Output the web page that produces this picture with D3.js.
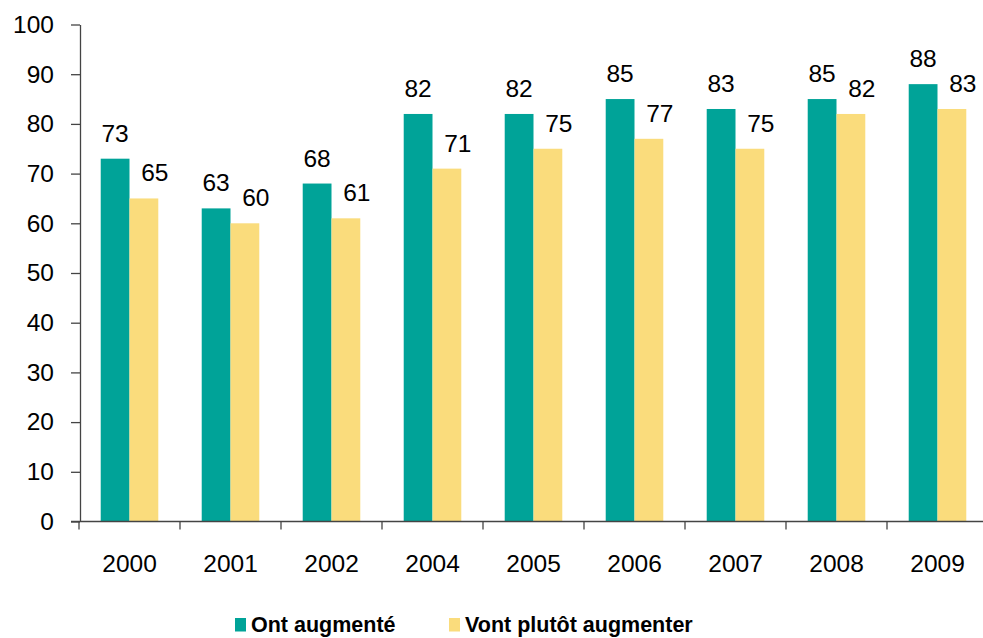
<!DOCTYPE html>
<html>
<head>
<meta charset="utf-8">
<script src="https://cdn.jsdelivr.net/npm/d3@7"></script>
<style>
  body { margin: 0; background: #fff; }
  svg { display: block; font-family: Arial, "Liberation Sans", sans-serif; }
</style>
</head>
<body>
<svg id="chart" width="983" height="638"></svg>
<script>
const years = ['2000', '2001', '2002', '2004', '2005', '2006', '2007', '2008', '2009'];
const seriesNames = ['Ont augmenté', 'Vont plutôt augmenter'];
const ontAugmente = [73, 63, 68, 82, 82, 85, 83, 85, 88];
const vontAugmenter = [65, 60, 61, 71, 75, 77, 75, 82, 83];
const colors = ['#00a398', '#fadc7c'];
const yTicks = [0, 10, 20, 30, 40, 50, 60, 70, 80, 90, 100];

const svg = d3.select('#chart');
const fontSize = 24.5;

const x0 = d3.scaleBand()
  .domain(years)
  .range([79, 988])
  .paddingInner(0.43)
  .paddingOuter(0.215);

const x1 = d3.scaleBand()
  .domain(seriesNames)
  .range([0, x0.bandwidth()]);

const y = d3.scaleLinear().domain([0, 100]).range([521.5, 24.5]);

// y axis
const yAxis = svg.append('g')
  .attr('transform', 'translate(80,0)')
  .call(d3.axisLeft(y).tickValues(yTicks).tickSize(9).tickPadding(17).tickSizeOuter(0));
yAxis.select('.domain').attr('stroke', '#444').attr('stroke-width', 1.3);
yAxis.selectAll('.tick line').attr('stroke', '#444').attr('stroke-width', 1.3);
yAxis.selectAll('.tick text').attr('font-size', fontSize).attr('fill', '#000')
  .attr('font-family', 'Arial, "Liberation Sans", sans-serif');

// bars
const rows = years.map((yr, i) => ({ year: yr, values: [ontAugmente[i], vontAugmenter[i]] }));

const groups = svg.append('g').selectAll('g')
  .data(rows)
  .join('g')
  .attr('transform', d => `translate(${x0(d.year)},0)`);

groups.selectAll('rect')
  .data(d => d.values.map((v, k) => ({ name: seriesNames[k], value: v, k })))
  .join('rect')
  .attr('x', d => x1(d.name))
  .attr('width', x1.bandwidth())
  .attr('y', d => y(d.value))
  .attr('height', d => y(0) - y(d.value))
  .attr('fill', d => colors[d.k]);

groups.selectAll('text')
  .data(d => d.values.map((v, k) => ({ name: seriesNames[k], value: v, k })))
  .join('text')
  .attr('x', d => x1(d.name) + x1.bandwidth() / 2 + (d.k === 1 ? 11 : 0))
  .attr('y', d => y(d.value) - 17)
  .attr('text-anchor', 'middle')
  .attr('font-size', fontSize)
  .text(d => d.value);

// x axis
const xAxis = svg.append('g')
  .attr('transform', `translate(0,${y(0)})`)
  .call(d3.axisBottom(x0).tickSize(0).tickPadding(33).tickSizeOuter(0));
xAxis.select('.domain').attr('stroke', '#444').attr('stroke-width', 1.3)
  .attr('d', `M71,0H988`);
xAxis.selectAll('.tick text').attr('font-size', fontSize).attr('fill', '#000')
  .attr('font-family', 'Arial, "Liberation Sans", sans-serif');
// category boundary ticks
xAxis.append('g').selectAll('line')
  .data(years)
  .join('line')
  .attr('x1', d => x0(d) - x0.step() * x0.paddingInner() / 2)
  .attr('x2', d => x0(d) - x0.step() * x0.paddingInner() / 2)
  .attr('y1', 0).attr('y2', 8)
  .attr('stroke', '#444').attr('stroke-width', 1.3);

// legend
const legendX = [235, 449];
const legend = svg.append('g').selectAll('g')
  .data(seriesNames)
  .join('g')
  .attr('transform', (d, i) => `translate(${legendX[i]},618)`);
legend.append('rect').attr('width', 11).attr('height', 13.5).attr('fill', (d, i) => colors[i]);
legend.append('text')
  .attr('x', 16).attr('y', 14)
  .attr('font-size', 21.5).attr('font-weight', 'bold')
  .text(d => d);
</script>
</body>
</html>
